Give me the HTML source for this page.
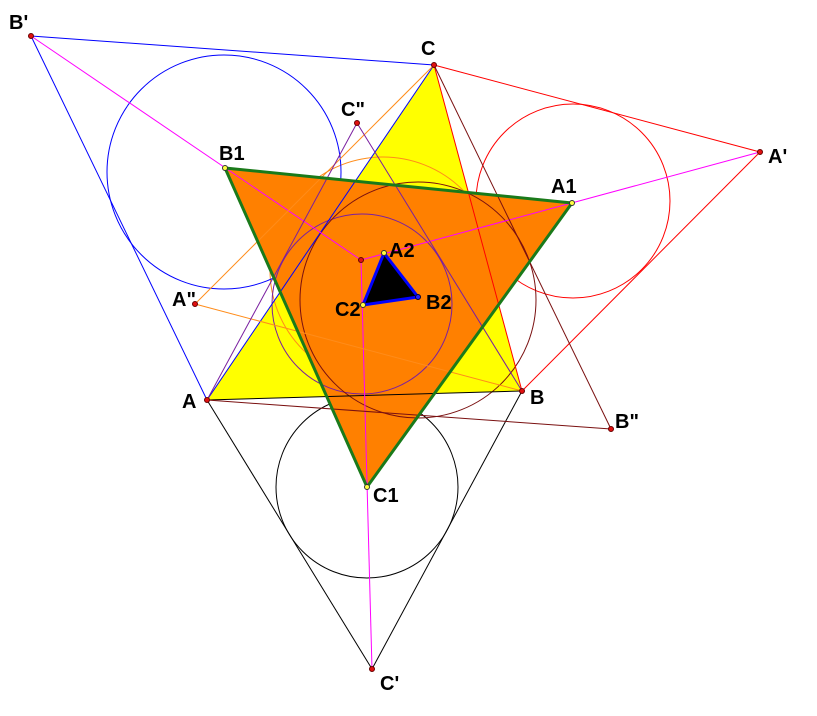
<!DOCTYPE html>
<html><head><meta charset="utf-8"><style>
html,body{margin:0;padding:0;background:#fff;width:817px;height:716px;overflow:hidden}
text{font-family:"Liberation Sans",sans-serif;font-weight:bold;font-size:20px;fill:#000}
</style></head><body>
<svg width="817" height="716" viewBox="0 0 817 716" xmlns="http://www.w3.org/2000/svg">
<polygon points="207,400 522,391 434,65" fill="#ffff00"/>
<g fill="none" stroke-width="1">
<circle cx="383" cy="270" r="113" stroke="#ff8c1a"/>
<circle cx="224" cy="172" r="117" stroke="#0000ff"/>
<circle cx="573" cy="201" r="97" stroke="#ff0000"/>
<circle cx="367" cy="487" r="91" stroke="#000"/>
</g>
<polygon points="225,168 572,203 367,487" fill="#ff8000"/>
<g fill="none" stroke-width="1">
<circle cx="362" cy="304" r="90" stroke="#7a1fa0"/>
<circle cx="418" cy="300" r="118" stroke="#7a1010"/>
<line x1="31" y1="36" x2="434" y2="65" stroke="#0000ff"/>
<line x1="31" y1="36" x2="207" y2="400" stroke="#0000ff"/>
<line x1="207" y1="400" x2="434" y2="65" stroke="#0000ff"/>
<line x1="434" y1="65" x2="760" y2="152" stroke="#ff0000"/>
<line x1="760" y1="152" x2="522" y2="391" stroke="#ff0000"/>
<line x1="434" y1="65" x2="522" y2="391" stroke="#ff0000"/>
<line x1="207" y1="400" x2="372" y2="669" stroke="#000"/>
<line x1="522" y1="391" x2="372" y2="669" stroke="#000"/>
<line x1="207" y1="400" x2="522" y2="391" stroke="#000"/>
<line x1="31" y1="36" x2="361" y2="260" stroke="#ff00ff"/>
<line x1="760" y1="152" x2="361" y2="260" stroke="#ff00ff"/>
<line x1="372" y1="669" x2="361" y2="260" stroke="#ff00ff"/>
<line x1="195" y1="304" x2="434" y2="65" stroke="#ff8c1a"/>
<line x1="195" y1="304" x2="522" y2="391" stroke="#ff8c1a"/>
<line x1="357" y1="123" x2="207" y2="400" stroke="#7a1fa0"/>
<line x1="357" y1="123" x2="522" y2="391" stroke="#7a1fa0"/>
<line x1="611" y1="429" x2="207" y2="400" stroke="#7a1010"/>
<line x1="611" y1="429" x2="434" y2="65" stroke="#7a1010"/>
</g>
<polygon points="225,168 572,203 367,487" fill="none" stroke="#1a7a1a" stroke-width="3"/>
<polygon points="384,253 418,297 363,305" fill="#000" stroke="#0000ff" stroke-width="3"/>
<g stroke="#600" stroke-width="1" fill="#e01010">
<circle cx="31" cy="36" r="2.5"/><circle cx="434" cy="65" r="2.5"/><circle cx="760" cy="152" r="2.5"/>
<circle cx="357" cy="123" r="2.5"/><circle cx="361" cy="260" r="2.5"/><circle cx="195" cy="304" r="2.5"/>
<circle cx="207" cy="400" r="2.5"/><circle cx="522" cy="391" r="2.5"/><circle cx="611" cy="429" r="2.5"/>
<circle cx="372" cy="669" r="2.5"/>
</g>
<g stroke="#333" stroke-width="1" fill="#ffff40">
<circle cx="225" cy="168" r="2.5"/><circle cx="572" cy="203" r="2.5"/><circle cx="367" cy="487" r="2.5"/>
<circle cx="384" cy="253" r="2.5"/><circle cx="363" cy="305" r="2.5"/>
</g>
<circle cx="418" cy="297" r="2.5" fill="#2020ff" stroke="#003"/>
<text x="9" y="29">B'</text>
<text x="421" y="55">C</text>
<text x="768" y="163">A'</text>
<text x="341" y="116">C"</text>
<text x="219" y="160">B1</text>
<text x="551" y="193">A1</text>
<text x="389" y="257">A2</text>
<text x="335" y="316">C2</text>
<text x="426" y="309">B2</text>
<text x="172" y="306">A"</text>
<text x="182" y="408">A</text>
<text x="530" y="404">B</text>
<text x="615" y="428">B"</text>
<text x="373" y="502">C1</text>
<text x="380" y="690">C'</text>
</svg>
</body></html>
